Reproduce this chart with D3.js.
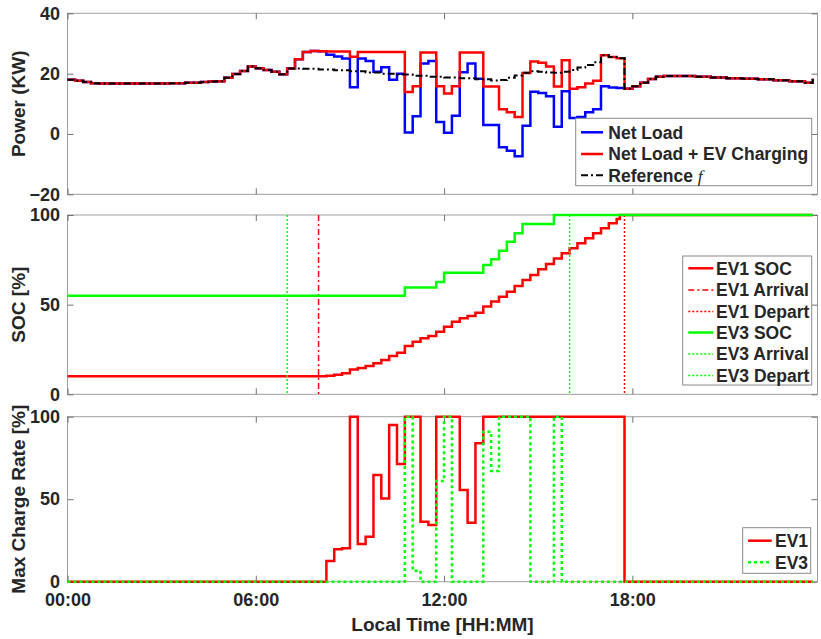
<!DOCTYPE html>
<html><head><meta charset="utf-8">
<script src="https://cdn.jsdelivr.net/npm/d3@7"></script>
<style>
body{margin:0;background:#fff}
svg{display:block}
text{font-family:"Liberation Sans",Arial,sans-serif;font-weight:bold;fill:#262626}
</style>
</head><body>
<svg id="c" width="821" height="639"></svg>
<script>
// ---------- tick labels ----------
const timeTicks = [0, 6, 12, 18];
const timeTickLabels = ["00:00", "06:00", "12:00", "18:00"];
const powerTicks = [-20, 0, 20, 40];
const pctTicks = [0, 50, 100];

// ---------- power [kW]: [hour, value] step points ----------
const loadMorning = [[0,18.0],[0.25,17.6],[0.5,17.2],[0.75,16.8],[1.0,16.7],[3.25,16.8],[3.75,17.0],[4.25,17.2],[4.5,17.4],[4.75,17.5],[5.0,18.6],[5.25,19.9],[5.5,20.9],[5.75,22.4],[6.0,21.8],[6.25,21.2],[6.5,20.6],[6.75,19.8]];
const loadEvening = [[17.75,15.0],[18.0,15.8],[18.25,17.0],[18.5,18.2],[18.75,19.0],[19.0,19.2],[19.5,19.2],[20.0,19.0],[20.5,18.7],[21.0,18.5],[21.5,18.3],[22.0,18.1],[22.5,17.8],[23.0,17.5],[23.5,17.0],[23.75,18.3]];
const netLoadDay = [[7.0,21.7],[7.25,24.8],[7.5,27.2],[7.75,27.5],[8.0,27.4],[8.25,26.3],[8.5,25.7],[8.75,25.0],[9.0,15.5],[9.25,25.0],[9.5,24.2],[9.75,20.6],[10.0,22.1],[10.25,18.0],[10.5,20.0],[10.75,0.5],[11.0,5.9],[11.25,23.4],[11.5,24.2],[11.75,4.0],[12.0,0.4],[12.25,6.0],[12.5,20.5],[12.75,23.4],[13.0,18.3],[13.25,3.0],[13.75,-4.4],[14.0,-5.6],[14.25,-7.4],[14.5,2.7],[14.75,14.0],[15.0,13.6],[15.25,12.5],[15.5,2.4],[15.75,14.2],[16.0,5.3],[16.25,5.6],[16.5,7.2],[16.75,8.2],[17.0,15.8],[17.25,15.4],[17.5,15.2]];
const withEvDay = [[7.0,21.7],[7.25,24.8],[7.5,27.2],[7.75,27.5],[8.0,27.4],[8.25,27.3],[9.0,25.6],[9.25,27.2],[10.75,13.9],[11.0,15.8],[11.25,27.0],[11.75,15.8],[12.0,13.4],[12.25,15.8],[12.5,27.0],[13.25,15.7],[13.75,8.2],[14.0,7.2],[14.25,5.6],[14.5,20.2],[14.75,24.0],[15.0,23.6],[15.25,22.4],[15.5,15.7],[15.75,24.4],[16.0,15.0],[16.25,15.5],[16.5,16.7],[16.75,17.6],[17.0,26.1],[17.25,25.5],[17.5,25.1]];
const referenceDay = [[7.0,21.7],[7.5,21.6],[8.0,21.4],[8.5,21.1],[9.0,20.8],[9.5,20.4],[10.0,20.0],[10.5,19.7],[11.0,19.3],[11.5,19.0],[12.0,18.7],[12.5,18.5],[13.0,18.1],[13.5,17.7],[13.75,17.9],[14.0,18.6],[14.25,19.4],[14.5,20.3],[14.75,20.8],[15.0,20.6],[15.25,20.4],[15.5,20.3],[15.75,20.6],[16.0,21.2],[16.25,22.0],[16.5,22.9],[16.75,23.8],[17.0,26.1],[17.25,25.5],[17.5,25.1]];

// ---------- SOC [%] ----------
const ev1Soc = [[0,10],[8.25,10.3],[8.5,10.9],[8.75,11.7],[9.0,13.9],[9.25,14.6],[9.5,15.8],[9.75,17.3],[10.0,19.1],[10.25,21.4],[10.5,23.2],[10.75,26.9],[11.0,29.3],[11.25,31.2],[11.5,32.5],[11.75,34.9],[12.0,37.7],[12.25,40.5],[12.5,42.4],[12.75,43.7],[13.0,45.5],[13.25,48.9],[13.5,51.7],[13.75,54.4],[14.0,57.2],[14.25,60.4],[14.5,63.7],[14.75,66.5],[15.0,69.7],[15.25,72.7],[15.5,75.8],[15.75,78.6],[16.0,81.4],[16.25,84.2],[16.5,87.1],[16.75,89.8],[17.0,92.6],[17.25,95.4],[17.5,97.8],[17.6,100],[23.75,100]];
const ev3Soc = [[0,55],[10.75,59.5],[11.75,62.6],[12.0,67.8],[13.25,72.1],[13.5,75.3],[13.75,80.1],[14.0,85.1],[14.25,89.8],[14.5,95.0],[15.5,100],[23.75,100]];
const ev1Arrival = 8.0, ev1Depart = 17.75, ev3Arrival = 7.0, ev3Depart = 16.0;

// ---------- max charge rate [%] ----------
const ev1Rate = [[0,0],[8.25,12.5],[8.5,19.6],[8.75,20.2],[9.0,100],[9.25,22.8],[9.5,27.3],[9.75,64.7],[10.0,50.5],[10.25,95],[10.5,71.3],[10.75,100],[11.25,36.4],[11.5,34.4],[11.75,100],[12.5,55.6],[12.75,35.8],[13.0,83.9],[13.25,100],[17.75,0],[23.75,0]];
const ev3Rate = [[0,0],[10.75,100],[11.0,6.7],[11.25,0],[11.75,61],[12.0,100],[12.25,0],[13.25,90.9],[13.5,67.1],[13.75,100],[14.75,0],[15.5,100],[15.75,0],[23.75,0]];

// ---------- build ----------
const netLoad = loadMorning.concat(netLoadDay, loadEvening);
const withEv = loadMorning.concat(withEvDay, loadEvening);
const reference = loadMorning.concat(referenceDay, loadEvening);

const svg = d3.select("#c");
const X0 = 67.5, X1 = 817.5;
const x = d3.scaleLinear().domain([0, 23.9]).range([X0, X1]);
const BOX = "#a0a0a0", TICK = "#707070";

const panels = [
  {top:13.3, bottom:194.3, domain:[-20,40], ticks:powerTicks, label:"Power (KW)"},
  {top:215, bottom:394.3, domain:[0,100], ticks:pctTicks, label:"SOC [%]"},
  {top:416.7, bottom:581.7, domain:[0,100], ticks:pctTicks, label:"Max Charge Rate [%]"}
];

panels.forEach((p, i) => {
  p.y = d3.scaleLinear().domain(p.domain).range([p.bottom, p.top]);
  const g = svg.append("g");
  g.append("rect").attr("x", X0).attr("y", p.top).attr("width", X1 - X0).attr("height", p.bottom - p.top)
    .attr("fill", "none").attr("stroke", BOX).attr("stroke-width", 1);
  const ax = [
    g.append("g").attr("transform", `translate(${X0},0)`).call(d3.axisLeft(p.y).tickValues(p.ticks).tickSize(-6).tickSizeOuter(0).tickPadding(7.5)),
    g.append("g").attr("transform", `translate(${X1},0)`).call(d3.axisRight(p.y).tickValues(p.ticks).tickSize(-6).tickSizeOuter(0).tickFormat("")),
    g.append("g").attr("transform", `translate(0,${p.top})`).call(d3.axisTop(x).tickValues(timeTicks).tickSize(-6).tickSizeOuter(0).tickFormat("")),
    g.append("g").attr("transform", `translate(0,${p.bottom})`).call(d3.axisBottom(x).tickValues(timeTicks).tickSize(-6).tickSizeOuter(0).tickPadding(12)
        .tickFormat(i === 2 ? (d, k) => timeTickLabels[k] : ""))
  ];
  ax.forEach(a => {
    a.select(".domain").remove();
    a.selectAll(".tick line").attr("stroke", TICK);
    a.selectAll("text").attr("font-size", 18).attr("fill", "#262626")
      .attr("font-family", '"Liberation Sans",Arial,sans-serif').attr("font-weight", "bold");
  });
  svg.append("text").attr("transform", `translate(25,${(p.top + p.bottom) / 2}) rotate(-90)`)
    .attr("text-anchor", "middle").attr("font-size", 19).text(p.label);
});
svg.append("text").attr("x", (X0 + X1) / 2).attr("y", 631).attr("text-anchor", "middle").attr("font-size", 19).text("Local Time [HH:MM]");

function stairs(p, data, color, width, dash) {
  const line = d3.line().x(d => x(d[0])).y(d => p.y(d[1])).curve(d3.curveStepAfter);
  svg.append("path").datum(data).attr("d", line).attr("fill", "none").attr("stroke", color)
    .attr("stroke-width", width).attr("stroke-dasharray", dash || null).attr("stroke-linejoin", "miter");
}
function vline(p, t, color, width, dash) {
  svg.append("line").attr("x1", x(t)).attr("x2", x(t)).attr("y1", p.top).attr("y2", p.bottom)
    .attr("stroke", color).attr("stroke-width", width).attr("stroke-dasharray", dash);
}

const P0 = panels[0], P1 = panels[1], P2 = panels[2];
const RED = "#ff0000", BLUE = "#0000ff", GREEN = "#00ff00";
const S_REF = "7,3,2,3", S_ARR = "6,3,2,3", S_DOT = "2,2", S_RATE = "3,3";

stairs(P0, netLoad, BLUE, 2.5);
stairs(P0, withEv, RED, 2.5);
stairs(P0, reference, "#000", 2, S_REF);

stairs(P1, ev1Soc, RED, 2.5);
vline(P1, ev1Arrival, RED, 1.5, S_ARR);
vline(P1, ev1Depart, RED, 1.5, S_DOT);
stairs(P1, ev3Soc, GREEN, 2.5);
vline(P1, ev3Arrival, GREEN, 1.5, S_DOT);
vline(P1, ev3Depart, GREEN, 1.5, S_DOT);

stairs(P2, ev1Rate, RED, 2.5);
stairs(P2, ev3Rate, GREEN, 2.5, S_RATE);

// ---------- legends ----------
function legend(box, rows, sx0, sx1, tx) {
  svg.append("rect").attr("x", box[0]).attr("y", box[1]).attr("width", box[2] - box[0]).attr("height", box[3] - box[1])
    .attr("fill", "#fff").attr("stroke", "#8a8a8a").attr("stroke-width", 1);
  rows.forEach(r => {
    svg.append("line").attr("x1", sx0).attr("x2", sx1).attr("y1", r.y).attr("y2", r.y)
      .attr("stroke", r.color).attr("stroke-width", r.w).attr("stroke-dasharray", r.dash || null);
    const t = svg.append("text").attr("x", tx).attr("y", r.y + 6.2).attr("font-size", 17.5);
    t.append("tspan").text(r.text);
    if (r.italic) t.append("tspan").attr("font-family", '"Liberation Serif",serif').attr("font-style", "italic")
      .attr("font-weight", "normal").text(r.italic);
  });
}
legend([575.7, 118.3, 811.7, 185.7], [
  {y:132.3, color:BLUE, w:2.5, text:"Net Load"},
  {y:154, color:RED, w:2.5, text:"Net Load + EV Charging"},
  {y:175.3, color:"#000", w:2, dash:S_REF, text:"Reference ", italic:"f"}
], 581, 603, 608.3);
legend([682.7, 256, 811.7, 385], [
  {y:268.3, color:RED, w:2.5, text:"EV1 SOC"},
  {y:290, color:RED, w:1.5, dash:S_ARR, text:"EV1 Arrival"},
  {y:311.5, color:RED, w:1.5, dash:S_DOT, text:"EV1 Depart"},
  {y:332.5, color:GREEN, w:2.5, text:"EV3 SOC"},
  {y:354, color:GREEN, w:1.5, dash:S_DOT, text:"EV3 Arrival"},
  {y:375.5, color:GREEN, w:1.5, dash:S_DOT, text:"EV3 Depart"}
], 688.3, 713.3, 716);
legend([742.7, 527.7, 810.7, 573.3], [
  {y:540.7, color:RED, w:2.5, text:"EV1"},
  {y:562.3, color:GREEN, w:2.5, dash:S_RATE, text:"EV3"}
], 748, 771.7, 775);
</script>
</body></html>
